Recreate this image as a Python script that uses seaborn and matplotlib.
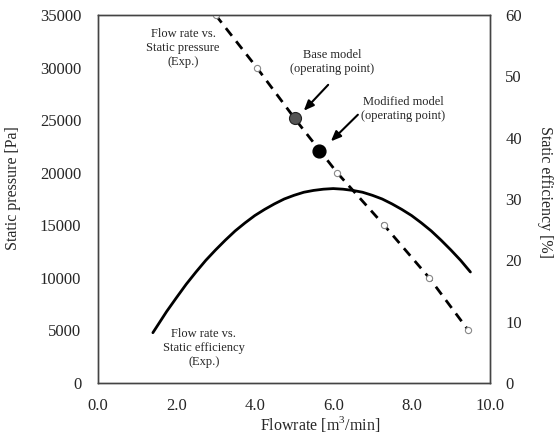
import numpy as np
import pandas as pd
import matplotlib
matplotlib.use("Agg")
import matplotlib.pyplot as plt
import seaborn as sns

# ==============================================================================
# DATA
# ==============================================================================
# Flow rate vs static pressure (experiment)
flow_p = [3.0, 4.05, 5.05, 6.1, 7.3, 8.45, 9.45]
pressure = [35000, 30000, 25000, 20000, 15000, 10000, 5000]

# Flow rate vs static efficiency (experiment)
flow_e = [1.4, 1.75, 2.0, 2.25, 2.5, 2.75, 3.0, 3.25, 3.5, 3.75, 4.0, 4.25, 4.5, 4.75,
          5.0, 5.25, 5.5, 5.75, 6.0, 6.25, 6.5, 6.75, 7.0, 7.25, 7.5, 7.75, 8.0, 8.25,
          8.5, 8.75, 9.0, 9.25, 9.5]
efficiency = [8.2, 11.65, 13.9, 16.1, 18.1, 20.0, 21.7, 23.3, 24.8, 26.1, 27.3, 28.3,
              29.2, 30.0, 30.6, 31.1, 31.4, 31.6, 31.7, 31.6, 31.4, 31.1, 30.6, 30.0,
              29.2, 28.3, 27.3, 26.1, 24.8, 23.3, 21.7, 20.0, 18.1]

# Operating points
base_pt = (5.03, 25200)
mod_pt = (5.64, 22100)

df_p = pd.DataFrame({"flow": flow_p, "pressure": pressure})
df_e = pd.DataFrame({"flow": flow_e, "eff": efficiency})

# ==============================================================================
# PLOT
# ==============================================================================
sns.set_style("white")
plt.rcParams['font.family'] = ['Liberation Serif', 'DejaVu Serif']
plt.rcParams['mathtext.fontset'] = 'custom'
plt.rcParams['mathtext.rm'] = 'Liberation Serif'

fig = plt.figure(figsize=(5.59, 4.41), dpi=100)
ax = fig.add_axes([98 / 559, 1 - 383 / 441, 392 / 559, 368 / 441])
ax2 = ax.twinx()

# dashed pressure line with open circles
sns.lineplot(data=df_p, x="flow", y="pressure", ax=ax, color="black",
             linewidth=2.0, zorder=2)
ax.lines[-1].set_linestyle((0, (3.5, 2.5)))
sns.scatterplot(data=df_p, x="flow", y="pressure", ax=ax, s=20,
                facecolor="white", edgecolor="#888888", linewidth=0.8, zorder=3)

# efficiency curve on right axis
sns.lineplot(data=df_e, x="flow", y="eff", ax=ax2, color="black", linewidth=2.0)
ax2.lines[-1].set_solid_joinstyle("round")

# operating points
ax.scatter([base_pt[0]], [base_pt[1]], s=75, color="#555555", edgecolor="#222222",
           linewidth=0.8, zorder=4)
ax.scatter([mod_pt[0]], [mod_pt[1]], s=85, color="black", zorder=4)

ax.set_xlim(0, 10)
ax.set_ylim(0, 35000)
ax2.set_ylim(0, 60)
ax.set_xticks(np.arange(0, 10.1, 2))
ax.set_xticklabels([f"{v:.1f}" for v in np.arange(0, 10.1, 2)])
ax.set_yticks(np.arange(0, 35001, 5000))
ax2.set_yticks(np.arange(0, 61, 10))

ax.tick_params(axis="x", length=0, labelsize=12, pad=11)
ax.tick_params(axis="y", length=0, labelsize=12, pad=12)
ax2.tick_params(axis="y", length=0, labelsize=12, pad=11)
for a in (ax, ax2):
    for s in a.spines.values():
        s.set_color("#444444")
        s.set_linewidth(1.0)

ax.set_xlabel("Flowrate [m$^3$/min]", fontsize=11.5, va="center")
ax.xaxis.set_label_coords(0.566, -0.111)
ax.set_ylabel("Static pressure [Pa]", fontsize=11.5, va="center")
ax.yaxis.set_label_coords(-0.217, 0.53)
ax2.set_ylabel("Static efficiency [%]", fontsize=11.5, rotation=270, va="center")
ax2.yaxis.set_label_coords(1.14, 0.52)

# annotations
txt = dict(ha="center", va="center", fontsize=9, linespacing=1.25)
ax.text(0.217, 0.91, "Flow rate vs.\nStatic pressure\n(Exp.)", transform=ax.transAxes, **txt)
ax.text(0.27, 0.095, "Flow rate vs.\nStatic efficiency\n(Exp.)", transform=ax.transAxes, **txt)
ax.text(0.597, 0.872, "Base model\n(operating point)", transform=ax.transAxes, **txt)
ax.text(0.778, 0.745, "Modified model\n(operating point)", transform=ax.transAxes, **txt)

arrow = dict(arrowstyle="-|>,head_length=0.6,head_width=0.25", color="black", lw=1.5)
ax.annotate("", xy=(5.2, 25700), xytext=(5.92, 28550), arrowprops=arrow)
ax.annotate("", xy=(5.89, 22800), xytext=(6.68, 25700), arrowprops=arrow)

fig.savefig("out.png", dpi=100)
